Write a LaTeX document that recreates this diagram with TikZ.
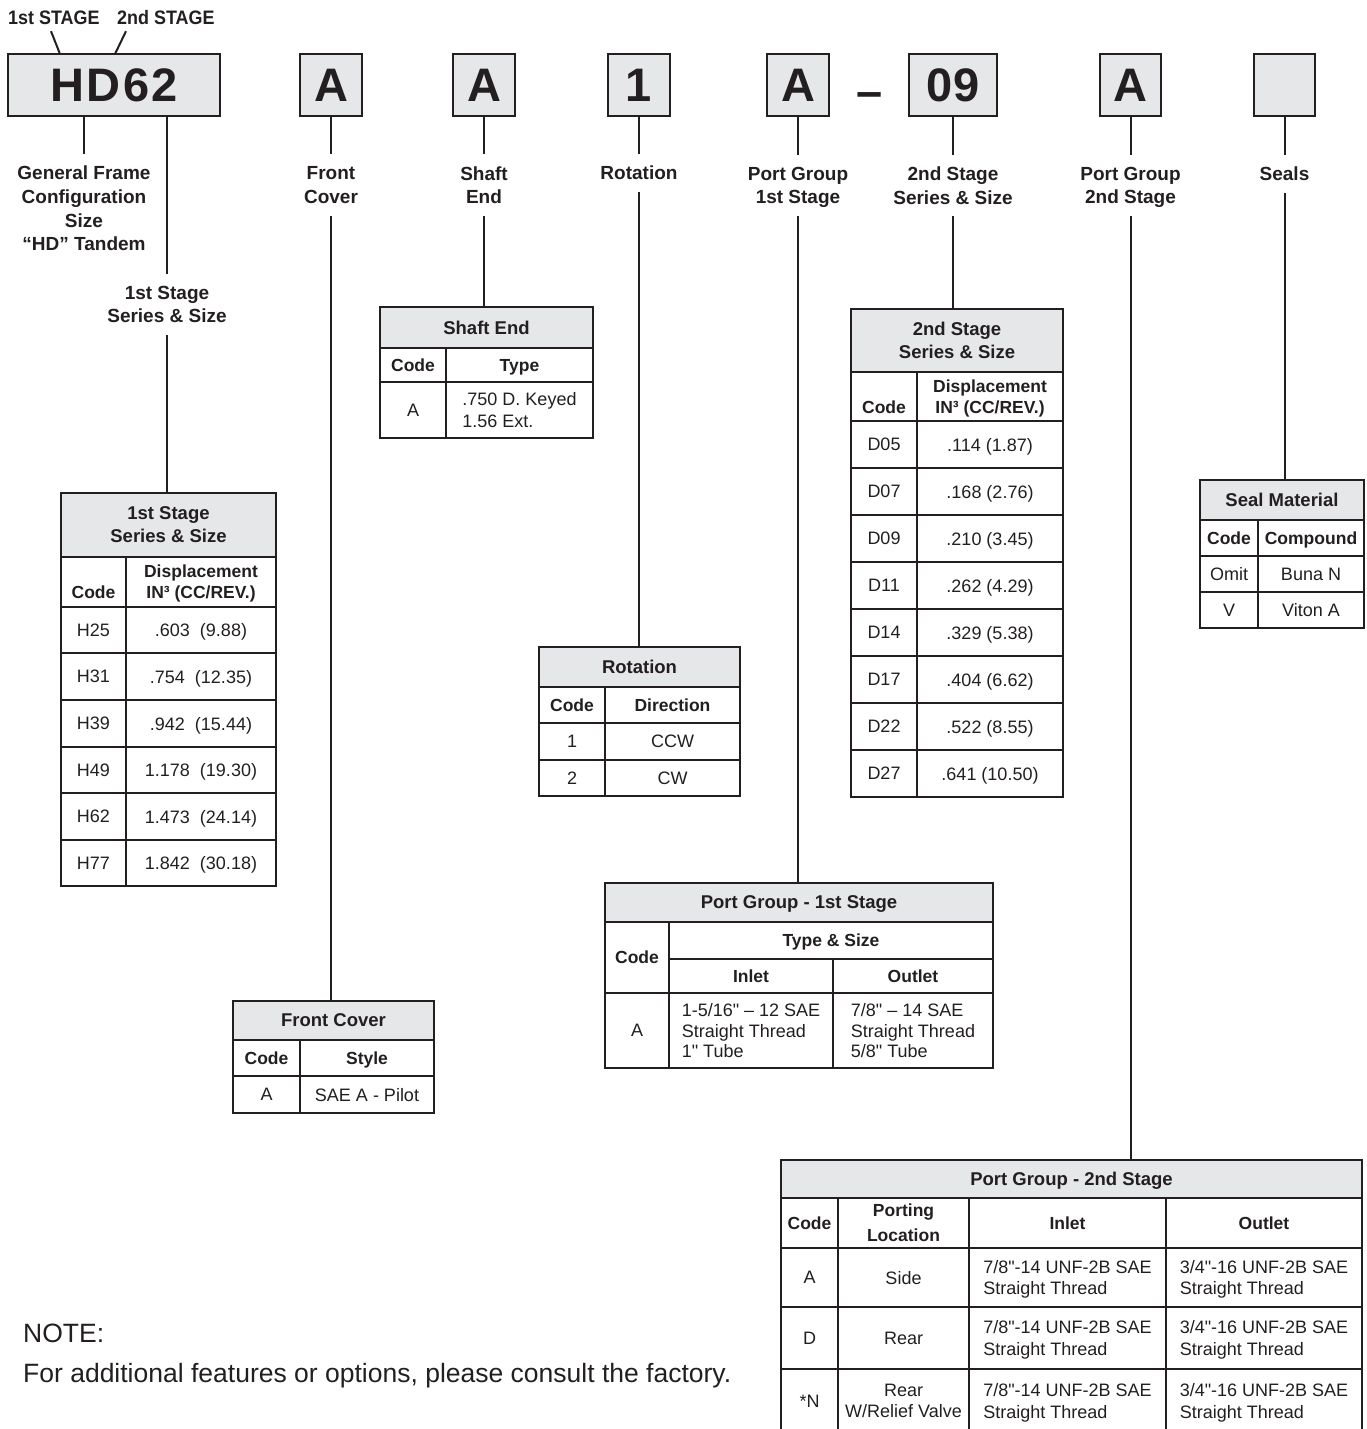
\documentclass[tikz,border=0pt]{standalone}
\usepackage{fontspec}
\setmainfont{Liberation Sans}
\usetikzlibrary{calc}
\definecolor{ink}{HTML}{231F20}
\definecolor{shade}{HTML}{E6E7E8}
\newcommand\labfont{\fontsize{19}{23.7}\selectfont\bfseries}
\newcommand\hdrfont{\fontsize{18.5}{23}\selectfont\bfseries}
\newcommand\colfont{\fontsize{17.5}{21}\selectfont\bfseries}
\newcommand\bodyfont{\fontsize{18}{21.5}\selectfont}
\newcommand\bigfont{\fontsize{47}{50}\selectfont\bfseries}
\newcommand\stgfont{\fontsize{19.5}{22}\selectfont\bfseries}
\newcommand\notefont{\fontsize{26.5}{30}\selectfont}
\newcommand\dq{\textquotedbl}
\tikzset{
  codebox/.style={draw=ink, line width=2.6pt, fill=shade, inner sep=0pt, outer sep=0pt, text depth=0pt, font=\bigfont, text=ink},
  lbl/.style={font=\labfont, align=center, inner xsep=2pt, inner ysep=12pt, text depth=0pt, text=ink},
  conn/.style={draw=ink, line width=2pt},
  cellbase/.style={draw=ink, line width=2.2pt, inner sep=2pt, outer sep=0pt, text depth=0pt, align=center, text=ink, font=\bodyfont},
  hdr/.style={fill=shade, font=\hdrfont},
  colh/.style={font=\colfont},
  body/.style={font=\bodyfont},
  lft/.style={align=left},
  stg/.style={font=\stgfont, inner xsep=0pt, inner ysep=6.5pt, text depth=0pt, text=ink, anchor=base west},
}
% name, x1, y1, x2, y2, style, text
\newcommand\tcell[7]{%
  \pgfmathsetmacro\cw{#4-#2}%
  \pgfmathsetmacro\ch{#5-#3}%
  \node[cellbase,#6,minimum width=\cw pt,minimum height=\ch pt,anchor=north west] (#1) at (#2,#3) {#7};}
\newcommand\cbox[6]{%
  \pgfmathsetmacro\cw{#4-#2}%
  \pgfmathsetmacro\ch{#5-#3}%
  \node[codebox,minimum width=\cw pt,minimum height=\ch pt,anchor=north west] (#1) at (#2,#3) {#6};}
\begin{document}
\begin{tikzpicture}[x=1pt,y=-1pt]
\useasboundingbox (0,0) rectangle (1367,1429);

% ---------- code boxes ----------
\cbox{hd}{8}{54}{220}{116}{H\kern2.6pt D\kern2.6pt 6\kern2.6pt 2}
\cbox{bfc}{300}{54}{362}{116}{A}
\cbox{bse}{453}{54}{515}{116}{A}
\cbox{brot}{608}{54}{670}{116}{1}
\cbox{bpg1}{767}{54}{829}{116}{A}
\node[font=\bigfont, text=ink, anchor=base, inner sep=0pt] (dash) at (869.5,107) {–};
\cbox{bs2}{909}{54}{997}{116}{09}
\cbox{bpg2}{1100}{54}{1161}{116}{A}
\cbox{bseal}{1254}{54}{1315}{116}{}

% ---------- stage tags ----------
\node[stg] (st1) at (8,24.5) {\scalebox{0.92}[1]{1st STAGE}};
\node[stg] (st2) at (117,24.5) {\scalebox{0.92}[1]{2nd STAGE}};
\draw[conn] ($(st1.south west)+(43,0)$) -- ($(hd.north west)+(52,0)$);
\draw[conn] ($(st2.south west)+(9,0)$) -- ($(hd.north west)+(107,0)$);

% ---------- labels ----------
\node[lbl] (genlbl) at (84,208.5) {General Frame\\Configuration\\Size\\“HD” Tandem};
\node[lbl] (st1lbl) at (167,304.5) {1st Stage\\Series \& Size};
\node[lbl] (fclbl) at (331,185) {Front\\Cover};
\node[lbl] (selbl) at (484,185) {Shaft\\End};
\node[lbl] (rotlbl) at (639,173) {Rotation};
\node[lbl] (pg1lbl) at (798,185.5) {Port Group\\1st Stage};
\node[lbl] (s2lbl) at (953,185.5) {2nd Stage\\Series \& Size};
\node[lbl] (pg2lbl) at (1130.5,185.5) {Port Group\\2nd Stage};
\node[lbl] (seallbl) at (1284.5,174) {Seals};

% ---------- table 1: 1st stage series & size ----------
\tcell{t1h}{61}{493}{276}{557}{hdr}{1st Stage\\Series \& Size}
\tcell{t1ch}{61}{557}{126}{607}{colh}{\vphantom{D}\\Code}
\tcell{t1vh}{126}{557}{276}{607}{colh}{Displacement\\IN³ (CC/REV.)}
\foreach \ya/\yb/\c/\v [count=\i] in {607/653/H25/{.603\ \ (9.88)},653/700/H31/{.754\ \ (12.35)},700/747/H39/{.942\ \ (15.44)},747/793/H49/{1.178\ \ (19.30)},793/840/H62/{1.473\ \ (24.14)},840/886/H77/{1.842\ \ (30.18)}}{
  \tcell{t1c\i}{61}{\ya}{126}{\yb}{body}{\c}
  \tcell{t1v\i}{126}{\ya}{276}{\yb}{body}{\v}
}

% ---------- table 2: shaft end ----------
\tcell{t2h}{380}{307}{593}{348}{hdr}{Shaft End}
\tcell{t2ch}{380}{348}{446}{382}{colh}{Code}
\tcell{t2th}{446}{348}{593}{382}{colh}{Type}
\tcell{t2c}{380}{382}{446}{438}{body}{A}
\tcell{t2t}{446}{382}{593}{438}{body,lft,font=\fontsize{18}{22}\selectfont}{.750 D. Keyed\\1.56 Ext.}

% ---------- table 3: 2nd stage series & size ----------
\tcell{t3h}{851}{309}{1063}{372}{hdr}{2nd Stage\\Series \& Size}
\tcell{t3ch}{851}{372}{917}{421}{colh}{\vphantom{D}\\Code}
\tcell{t3vh}{917}{372}{1063}{421}{colh}{Displacement\\IN³ (CC/REV.)}
\foreach \c/\v [count=\i from 0] in {D05/{.114 (1.87)},D07/{.168 (2.76)},D09/{.210 (3.45)},D11/{.262 (4.29)},D14/{.329 (5.38)},D17/{.404 (6.62)},D22/{.522 (8.55)},D27/{.641 (10.50)}}{
  \pgfmathsetmacro\ya{421+\i*47}
  \pgfmathsetmacro\yb{421+(\i+1)*47}
  \tcell{t3c\i}{851}{\ya}{917}{\yb}{body}{\c}
  \tcell{t3v\i}{917}{\ya}{1063}{\yb}{body}{\v}
}

% ---------- table 4: seal material ----------
\tcell{t4h}{1200}{480}{1364}{520}{hdr}{Seal Material}
\tcell{t4ch}{1200}{520}{1258}{556}{colh}{Code}
\tcell{t4vh}{1258}{520}{1364}{556}{colh}{Compound}
\tcell{t4c1}{1200}{556}{1258}{592}{body}{Omit}
\tcell{t4v1}{1258}{556}{1364}{592}{body}{Buna N}
\tcell{t4c2}{1200}{592}{1258}{628}{body}{V}
\tcell{t4v2}{1258}{592}{1364}{628}{body}{Viton A}

% ---------- table 5: rotation ----------
\tcell{t5h}{539}{647}{740}{687}{hdr}{Rotation}
\tcell{t5ch}{539}{687}{605}{723}{colh}{Code}
\tcell{t5vh}{605}{687}{740}{723}{colh}{Direction}
\tcell{t5c1}{539}{723}{605}{760}{body}{1}
\tcell{t5v1}{605}{723}{740}{760}{body}{CCW}
\tcell{t5c2}{539}{760}{605}{796}{body}{2}
\tcell{t5v2}{605}{760}{740}{796}{body}{CW}

% ---------- table 6: front cover ----------
\tcell{t6h}{233}{1001}{434}{1040}{hdr}{Front Cover}
\tcell{t6ch}{233}{1040}{300}{1076}{colh}{Code}
\tcell{t6vh}{300}{1040}{434}{1076}{colh}{Style}
\tcell{t6c}{233}{1076}{300}{1113}{body}{A}
\tcell{t6v}{300}{1076}{434}{1113}{body}{SAE A - Pilot}

% ---------- table 7: port group 1st stage ----------
\tcell{t7h}{605}{883}{993}{922}{hdr}{Port Group - 1st Stage}
\tcell{t7ch}{605}{922}{669}{993}{colh}{Code}
\tcell{t7ts}{669}{922}{993}{959}{colh}{Type \& Size}
\tcell{t7ih}{669}{959}{833}{993}{colh}{Inlet}
\tcell{t7oh}{833}{959}{993}{993}{colh}{Outlet}
\tcell{t7c}{605}{993}{669}{1068}{body}{A}
\tcell{t7i}{669}{993}{833}{1068}{body,lft,font=\fontsize{18}{20.5}\selectfont}{1-5/16\dq{} – 12 SAE\\Straight Thread\\1\dq{} Tube}
\tcell{t7o}{833}{993}{993}{1068}{body,lft,font=\fontsize{18}{20.5}\selectfont}{7/8\dq{} – 14 SAE\\Straight Thread\\5/8\dq{} Tube}

% ---------- table 8: port group 2nd stage ----------
\tcell{t8h}{781}{1160}{1362}{1198}{hdr}{Port Group - 2nd Stage}
\tcell{t8ch}{781}{1198}{838}{1248}{colh}{Code}
\tcell{t8ph}{838}{1198}{969}{1248}{colh,font=\fontsize{17.5}{25}\selectfont\bfseries}{Porting\\Location}
\tcell{t8ih}{969}{1198}{1166}{1248}{colh}{Inlet}
\tcell{t8oh}{1166}{1198}{1362}{1248}{colh}{Outlet}
\tcell{t8c1}{781}{1248}{838}{1307}{body}{A}
\tcell{t8p1}{838}{1248}{969}{1307}{body}{Side}
\tcell{t8i1}{969}{1248}{1166}{1307}{body,lft}{7/8\dq-14 UNF-2B SAE\\Straight Thread}
\tcell{t8o1}{1166}{1248}{1362}{1307}{body,lft}{3/4\dq-16 UNF-2B SAE\\Straight Thread}
\tcell{t8c2}{781}{1307}{838}{1369}{body}{D}
\tcell{t8p2}{838}{1307}{969}{1369}{body}{Rear}
\tcell{t8i2}{969}{1307}{1166}{1369}{body,lft}{7/8\dq-14 UNF-2B SAE\\Straight Thread}
\tcell{t8o2}{1166}{1307}{1362}{1369}{body,lft}{3/4\dq-16 UNF-2B SAE\\Straight Thread}
\tcell{t8c3}{781}{1369}{838}{1433}{body}{*N}
\tcell{t8p3}{838}{1369}{969}{1433}{body,font=\fontsize{18}{20.5}\selectfont}{Rear\\W/Relief Valve}
\tcell{t8i3}{969}{1369}{1166}{1433}{body,lft}{7/8\dq-14 UNF-2B SAE\\Straight Thread}
\tcell{t8o3}{1166}{1369}{1362}{1433}{body,lft}{3/4\dq-16 UNF-2B SAE\\Straight Thread}

% ---------- connectors ----------
\draw[conn] (hd.south -| genlbl) -- (genlbl.north);
\draw[conn] (hd.south -| st1lbl) -- (st1lbl.north);
\draw[conn] (st1lbl.south) -- (st1lbl.south |- t1h.north);
\draw[conn] (bfc.south) -- (fclbl.north);
\draw[conn] (fclbl.south) -- (fclbl.south |- t6h.north);
\draw[conn] (bse.south) -- (selbl.north);
\draw[conn] (selbl.south) -- (selbl.south |- t2h.north);
\draw[conn] (brot.south) -- (rotlbl.north);
\draw[conn] (rotlbl.south) -- (rotlbl.south |- t5h.north);
\draw[conn] (bpg1.south) -- (pg1lbl.north);
\draw[conn] (pg1lbl.south) -- (pg1lbl.south |- t7h.north);
\draw[conn] (bs2.south) -- (s2lbl.north);
\draw[conn] (s2lbl.south) -- (s2lbl.south |- t3h.north);
\draw[conn] (bpg2.south) -- (pg2lbl.north);
\draw[conn] (pg2lbl.south) -- (pg2lbl.south |- t8h.north);
\draw[conn] (bseal.south) -- (seallbl.north);
\draw[conn] (seallbl.south) -- (seallbl.south |- t4h.north);

% ---------- note ----------
\node[font=\notefont, text=ink, anchor=base west, inner sep=0pt] (note) at (23,1342) {NOTE:};
\node[font=\notefont, text=ink, anchor=base west, inner sep=0pt] (notetext) at (23,1382) {For additional features or options, please consult the factory.};
\end{tikzpicture}
\end{document}
